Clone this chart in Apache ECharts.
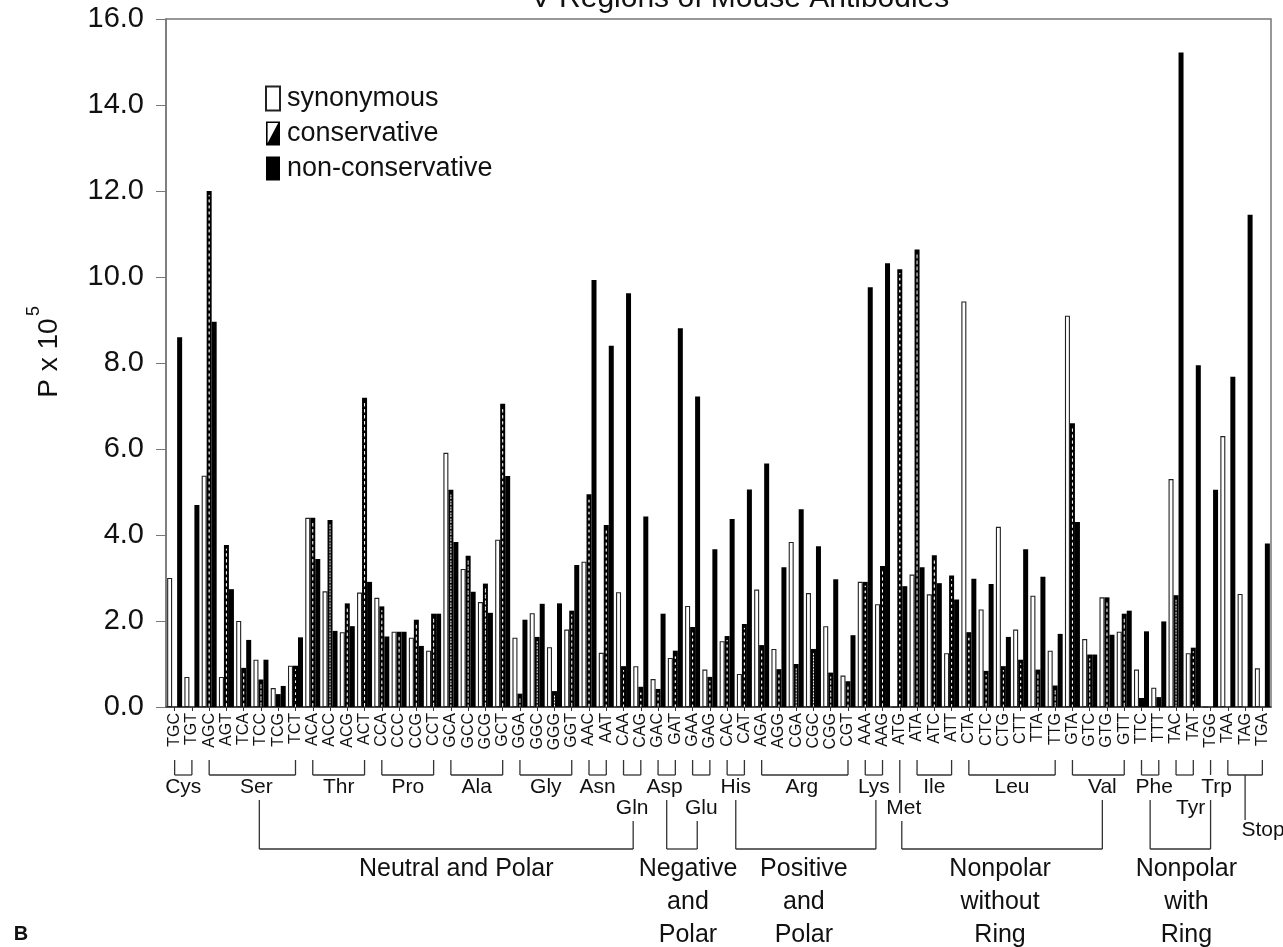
<!DOCTYPE html>
<html><head><meta charset="utf-8">
<script src="https://cdn.jsdelivr.net/npm/echarts@6/dist/echarts.min.js"></script>
<style>html,body{margin:0;padding:0;background:#fff}#c{width:1283px;height:947px}</style>
</head><body><div id="c"></div>
<script>
const codons = ['TGC','TGT','AGC','AGT','TCA','TCC','TCG','TCT','ACA','ACC','ACG','ACT','CCA','CCC','CCG','CCT',
  'GCA','GCC','GCG','GCT','GGA','GGC','GGG','GGT','AAC','AAT','CAA','CAG','GAC','GAT','GAA','GAG',
  'CAC','CAT','AGA','AGG','CGA','CGC','CGG','CGT','AAA','AAG','ATG','ATA','ATC','ATT','CTA','CTC',
  'CTG','CTT','TTA','TTG','GTA','GTC','GTG','GTT','TTC','TTT','TAC','TAT','TGG','TAA','TAG','TGA'];
const synonymous = [3.0,0.7,5.38,0.7,2.0,1.1,0.44,0.96,4.4,2.69,1.74,2.66,2.54,1.75,1.61,1.31,
  5.91,3.21,2.44,3.89,1.61,2.18,1.39,1.8,3.38,1.26,2.67,0.95,0.65,1.14,2.35,0.87,
  1.53,0.77,2.73,1.35,3.84,2.65,1.88,0.73,2.91,2.39,0,3.08,2.62,1.25,9.43,2.27,
  4.19,1.8,2.59,1.31,9.1,1.58,2.55,1.75,0.87,0.45,5.3,1.25,0,6.3,2.63,0.9];
const conservative = [0,0,12.0,3.77,0.91,0.64,0.3,0.96,4.4,4.35,2.41,7.19,2.34,1.75,2.03,2.17,
  5.05,3.52,2.87,7.05,0.31,1.63,0.37,2.24,4.95,4.23,0.95,0.47,0.42,1.31,1.86,0.7,
  1.65,1.93,1.44,0.88,1.0,1.35,0.8,0.6,2.91,3.28,10.18,10.64,3.53,3.06,1.74,0.84,
  0.95,1.1,0.87,0.5,6.6,1.22,2.55,2.17,0.21,0.23,2.6,1.38,0,0,0,0];
const nonConservative = [8.6,4.7,8.96,2.74,1.56,1.1,0.49,1.62,3.44,1.77,1.88,2.91,1.64,1.75,1.42,2.17,
  3.84,2.68,2.19,5.37,2.03,2.4,2.41,3.3,9.93,8.4,9.62,4.43,2.17,8.81,7.22,3.67,
  4.37,5.06,5.66,3.25,4.6,3.74,2.97,1.67,9.76,10.32,2.81,3.25,2.88,2.5,2.98,2.86,
  1.63,3.67,3.03,1.7,4.3,1.22,1.68,2.24,1.76,1.99,15.22,7.95,5.05,7.68,11.45,3.8];
const seriesNames = ['synonymous','conservative','non-conservative'];
const aminoNames = ['Cys','Ser','Thr','Pro','Ala','Gly','Asn','Gln','Asp','Glu','His','Arg','Lys','Met','Ile','Leu','Val','Phe','Tyr','Trp','Stop'];
const aminoFirst = [0,2,8,12,16,20,24,26,28,30,32,34,40,42,43,46,52,56,58,60,61];
const aminoLast  = [1,7,11,15,19,23,25,27,29,31,33,39,41,42,45,51,55,57,59,60,63];
const aminoRow   = [1,1,1,1,1,1,1,2,1,2,1,1,1,2,1,1,1,1,2,1,3];
const aminoDx    = [0,4,0,0,0,0,0,0,-2,0,0,-3,0,4,0,0,4,4,6,6,18];
const classNames = ['Neutral and Polar','Negative\nand\nPolar','Positive\nand\nPolar','Nonpolar\nwithout\nRing','Nonpolar\nwith\nRing'];
const classFrom = ['Ser','Asp','His','Met','Phe'];
const classTo   = ['Gln','Glu','Lys','Val','Trp'];
const classFromDx = [7,0,0,2,0];
const classToDx   = [1,-4,2,4,0];
const classDx   = [10,6,-2,-2,6];

const FF = '"Liberation Sans", Arial, Helvetica, sans-serif';
const chart = echarts.init(document.getElementById('c'));
const option = {
  animation: false,
  backgroundColor: '#fff',
  grid: {left:166, right:12, top:19, bottom:240, show:true, borderColor:'#777', borderWidth:1.5, backgroundColor:'transparent'},
  legend: {
    data: [
      {name: seriesNames[0], icon: 'rect'},
      {name: seriesNames[1], icon: 'path://M0,0L14,0L14,24L0,24Z M1.6,1.6L1.6,21.5L12.2,1.6Z'},
      {name: seriesNames[2], icon: 'rect'}
    ],
    orient: 'vertical', left: 260, top: 80, itemWidth: 14, itemHeight: 24, itemGap: 8,
    selectedMode: false,
    textStyle: {fontFamily: FF, fontSize: 27, color: '#111', padding:[0,0,0,2]}
  },
  xAxis: [
    {type:'category', data: codons,
     axisLine:{lineStyle:{color:'#333', width:1.5}},
     axisTick:{show:true, alignWithLabel:true, length:4, lineStyle:{color:'#333'}},
     axisLabel:{rotate:90, interval:0, fontFamily:FF, fontSize:16, color:'#111', margin:6}},
    {type:'category', data: codons, show:false}
  ],
  yAxis: {type:'value', min:0, max:16, interval:2,
    axisLine:{show:true, lineStyle:{color:'#777', width:1.5}},
    axisTick:{show:true, length:10, lineStyle:{color:'#777'}},
    splitLine:{show:false},
    axisLabel:{formatter: v => v.toFixed(1), fontFamily:FF, fontSize:29, color:'#111', margin:22}},
  series: [
    {type:'bar', name:seriesNames[0], data:synonymous, barWidth:5, barGap:'0%',
     itemStyle:{color:'#fff', borderColor:'#222', borderWidth:1.1}},
    {type:'bar', name:seriesNames[1], data:conservative, barWidth:5, barGap:'0%',
     itemStyle:{color:'#000'}},
    {type:'bar', name:seriesNames[2], data:nonConservative, barWidth:5, barGap:'0%',
     itemStyle:{color:'#000'}},
    {type:'bar', name:'hatch', xAxisIndex:1, silent:true, barWidth:0.6,
     data: conservative.map(v => v > 0.3 ? v - 0.08 : null),
     itemStyle:{color:'rgba(0,0,0,0)', borderColor:'#fff', borderWidth:1, borderType:[2,4]}}
  ]
};
chart.setOption(option);

const cx = i => chart.convertToPixel({xAxisIndex:0}, codons[i]);
const g = [];
function line(x1,y1,x2,y2){ g.push({type:'line', silent:true, shape:{x1,y1,x2,y2}, style:{stroke:'#333', lineWidth:1.3}}); }
function text(t,x,y,size,va,lh){
  g.push({type:'text', silent:true, x:x, y:y, style:{text:t, font: size+'px '+FF, fill:'#111',
    textAlign:'center', align:'center', textVerticalAlign:va||'middle', verticalAlign:va||'middle', lineHeight:lh||size}});
}
const bTop=760, bBot=775, rowY={1:787, 2:808, 3:830};
const aaCenter = {}, aaRow = {};
aminoNames.forEach((n,k) => {
  const a = cx(aminoFirst[k]), b = cx(aminoLast[k]);
  if (a === b) { line(a, bTop, a, n === 'Met' ? 793 : bBot); }
  else { line(a,bTop,a,bBot); line(b,bTop,b,bBot); line(a,bBot,b,bBot); }
  const c = (a+b)/2; aaCenter[n] = c; aaRow[n] = aminoRow[k];
  if (n === 'Stop') line(c, bBot, c, 820);
  text(n, c + aminoDx[k], rowY[aminoRow[k]], 21);
});
const lineTop = n => aaRow[n] === 1 ? 800 : 821;
const hY = 849;
classNames.forEach((n,k) => {
  const A = classFrom[k], B = classTo[k];
  const xa = aaCenter[A] + classFromDx[k], xb = aaCenter[B] + classToDx[k];
  line(xa, lineTop(A), xa, hY); line(xb, lineTop(B), xb, hY); line(xa, hY, xb, hY);
  text(n, (xa+xb)/2 + classDx[k], 853, 25, 'top', 33);
});
text('V Regions of Mouse Antibodies', 740, 14, 30, 'bottom');
text('B', 21, 934, 20);
g[g.length-1].style.font = 'bold 20px ' + FF;
g.push({type:'text', silent:true, x:49, y:358, rotation:Math.PI/2,
  style:{text:'P x 10', font:'28px '+FF, fill:'#111', textAlign:'center', align:'center', textVerticalAlign:'middle', verticalAlign:'middle'}});
g.push({type:'text', silent:true, x:34, y:311, rotation:Math.PI/2,
  style:{text:'5', font:'18px '+FF, fill:'#111', textAlign:'center', align:'center', textVerticalAlign:'middle', verticalAlign:'middle'}});
chart.setOption({graphic: g});
</script>
</body></html>
